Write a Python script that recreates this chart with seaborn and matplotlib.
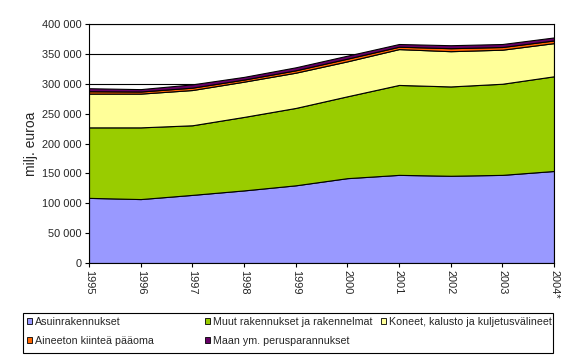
import numpy as np
import matplotlib
matplotlib.use("Agg")
import matplotlib.pyplot as plt
import seaborn as sns
from matplotlib.patches import Patch, Rectangle
from matplotlib.ticker import FuncFormatter, MultipleLocator

years = ["1995", "1996", "1997", "1998", "1999", "2000", "2001", "2002", "2003", "2004*"]
series_names = ["Asuinrakennukset", "Muut rakennukset ja rakennelmat",
                "Koneet, kalusto ja kuljetusvälineet", "Aineeton kiinteä pääoma",
                "Maan ym. perusparannukset"]
asuin = [109000, 107000, 114000, 121500, 130000, 142000, 147500, 146000, 147500, 154000]
muut = [118000, 120000, 116500, 123000, 129500, 137000, 150500, 149500, 152500, 158500]
koneet = [56500, 56500, 59000, 59000, 59000, 58500, 60000, 59000, 57000, 55500]
aineeton = [4000, 3500, 4000, 3500, 4000, 4500, 4000, 5000, 4500, 4500]
maan = [5000, 4000, 5500, 4500, 5000, 5000, 4500, 5000, 5000, 5000]
colors = ["#9999FF", "#99CC00", "#FFFF99", "#FF6600", "#660066"]

sns.set_style("white")
plt.rcParams['font.family'] = ['Liberation Sans', 'DejaVu Sans']

fig = plt.figure(figsize=(5.79, 3.61), dpi=100)
W, H = 579, 361
ax = fig.add_axes([89 / W, 1 - 263 / H, (554 - 89) / W, (263 - 24) / H])

x = np.arange(len(years))
ax.stackplot(x, asuin, muut, koneet, aineeton, maan, colors=colors,
             edgecolor="black", linewidth=0.8, zorder=2)

ax.set_xlim(0, len(years) - 1)
ax.set_ylim(0, 400000)
ax.yaxis.set_major_locator(MultipleLocator(50000))
ax.yaxis.set_major_formatter(FuncFormatter(lambda v, p: f"{int(v):,}".replace(",", " ")))
ax.set_xticks(x)
ax.set_xticklabels(years, rotation=270, fontsize=7.9)
ax.tick_params(axis="y", labelsize=7.9, length=3, width=0.8, color="black", left=True, pad=2)
ax.tick_params(axis="x", length=3, width=0.8, color="black", bottom=True, pad=2)
ax.grid(axis="y", color="black", linewidth=0.8, zorder=0)
ax.set_axisbelow(True)
for s in ax.spines.values():
    s.set_color("black")
    s.set_linewidth(0.8)
ax.set_ylabel("milj. euroa", fontsize=10, labelpad=3)

# legend: frame plus three columns (row-wise order like the original)
fig.patches.append(Rectangle((23 / W, 1 - 353 / H), (553 - 23) / W, 40 / H,
                             transform=fig.transFigure, facecolor="white",
                             edgecolor="black", linewidth=0.8, zorder=0))
handles = [Patch(facecolor=c, edgecolor="black", linewidth=0.6) for c in colors]
columns = [([0, 3], 27), ([1, 4], 205), ([2], 381)]
for idx, xpos in columns:
    fig.legend([handles[i] for i in idx], [series_names[i] for i in idx],
               loc="upper left", bbox_to_anchor=(xpos / W, 1 - 317 / H),
               fontsize=7.7, frameon=False, borderaxespad=0, borderpad=0,
               handlelength=0.45, handleheight=0.45, handletextpad=0.3,
               labelspacing=0.85)

fig.savefig("out.png", dpi=100)
